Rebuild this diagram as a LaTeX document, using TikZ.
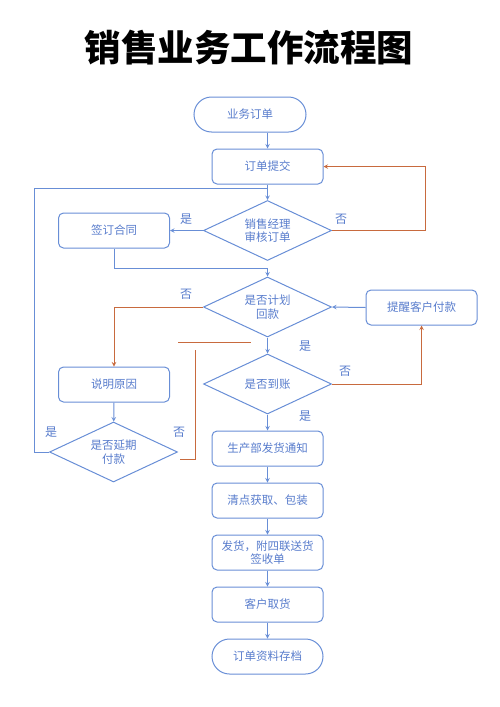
\documentclass[tikz,border=0pt]{standalone}
\usepackage{fontspec}
\setmainfont{Noto Sans CJK SC}
\usepackage{tikz}
\usetikzlibrary{positioning}
\usetikzlibrary{shapes.geometric}
\definecolor{lineblue}{RGB}{104,142,214}
\definecolor{textblue}{RGB}{88,124,204}
\definecolor{linered}{RGB}{200,106,62}

\begin{document}
\begin{tikzpicture}[
            x = 1pt,
            y = -1pt,
            font = \fontsize{11.5}{13.5}\selectfont,
            line width = 1pt,
            >=stealth,
            box/.style = {
                draw = lineblue,
                rectangle,
                rounded corners = 5pt,
                text = textblue,
                align = center,
                minimum width = 111pt,
                minimum height = 35pt,
                inner sep = 0pt
            },
            term/.style = {
                box,
                rounded corners = 17.5pt,
                minimum width = 112pt
            },
            dec/.style = {
                draw = lineblue,
                diamond,
                aspect = 2,
                text = textblue,
                align = center,
                minimum width = 128pt,
                minimum height = 60pt,
                inner sep = 0pt
            },
            arr/.style = {->, draw = lineblue},
            redarr/.style = {->, draw = linered},
            lbl/.style = {text = textblue, font = \fontsize{12}{12}\selectfont},
            node distance = {52pt}
            ]
            \useasboundingbox (0,0) rectangle (500,707);

            \node[font = \fontsize{36.5}{36.5}\selectfont\bfseries] (title) at (249,48) {销售业务工作流程图};

            \node[term] (start) at (250,114.5) {业务订单};
            \node[box] (submit) at (267.5,166.5) {订单提交};
            \node[dec] (review) at (267.5,230.5) {销售经理\\审核订单};
            \node[box] (contract) at (114,230.5) {签订合同};
            \node[dec] (plan) at (267.5,307) {是否计划\\回款};
            \node[box] (remind) at (421.5,307.5) {提醒客户付款};
            \node[box] (reason) at (114,384.5) {说明原因};
            \node[dec] (arrive) at (267.5,384) {是否到账};
            \node[dec] (delay) at (113.5,452) {是否延期\\付款};
            \node[box] (notify) at (267.5,448.5) {生产部发货通知};
            \node[box, below of=notify] (pack) {清点获取、包装};
            \node[box, below of=pack] (ship) {发货，附四联送货\\签收单};
            \node[box, below of=ship] (pickup) {客户取货};
            \node[term, minimum width = 111pt, below of=pickup] (archive) {订单资料存档};

            \coordinate (j0) at (267.5,188);
            \coordinate (j1) at (267.5,268);
            \coordinate (lft) at (34,452);
            \coordinate (rtop) at (425,166.5);
            \coordinate (d1) at (180,459);
            \coordinate (d2) at (195,459);
            \coordinate (d3) at (195,350);
            \coordinate (h1) at (178,342);
            \coordinate (h2) at (251,342);

            \draw[arr] (start.south -| submit.north) -- (submit.north);
            \draw[arr] (submit) -- (review);
            \draw[arr] (review.west) -- (contract.east);
            \draw[redarr] (review.east) -| (rtop) -- (submit.east);
            \draw[arr] (contract.south) |- (j1) -- (plan.north);
            \draw[draw = lineblue] (delay.west) -- (lft) |- (j0);
            \draw[redarr] (plan.west) -| (reason.north);
            \draw[arr] (remind.west) -- (plan.east);
            \draw[arr] (plan) -- (arrive);
            \draw[redarr] (arrive.east) -| (remind.south);
            \draw[arr] (arrive) -- (notify);
            \draw[arr] (reason) -- (delay);
            \draw[draw = linered] (d1) -- (d2) -- (d3);
            \draw[draw = linered] (h1) -- (h2);
            \draw[arr] (notify) -- (pack);
            \draw[arr] (pack) -- (ship);
            \draw[arr] (ship) -- (pickup);
            \draw[arr] (pickup) -- (archive);

            \node[lbl] at (186,219) {是};
            \node[lbl] at (341,219) {否};
            \node[lbl] at (186,294) {否};
            \node[lbl] at (305,346) {是};
            \node[lbl] at (345,371) {否};
            \node[lbl] at (305,416) {是};
            \node[lbl] at (51,432) {是};
            \node[lbl] at (179,432) {否};
        \end{tikzpicture}
\end{document}
